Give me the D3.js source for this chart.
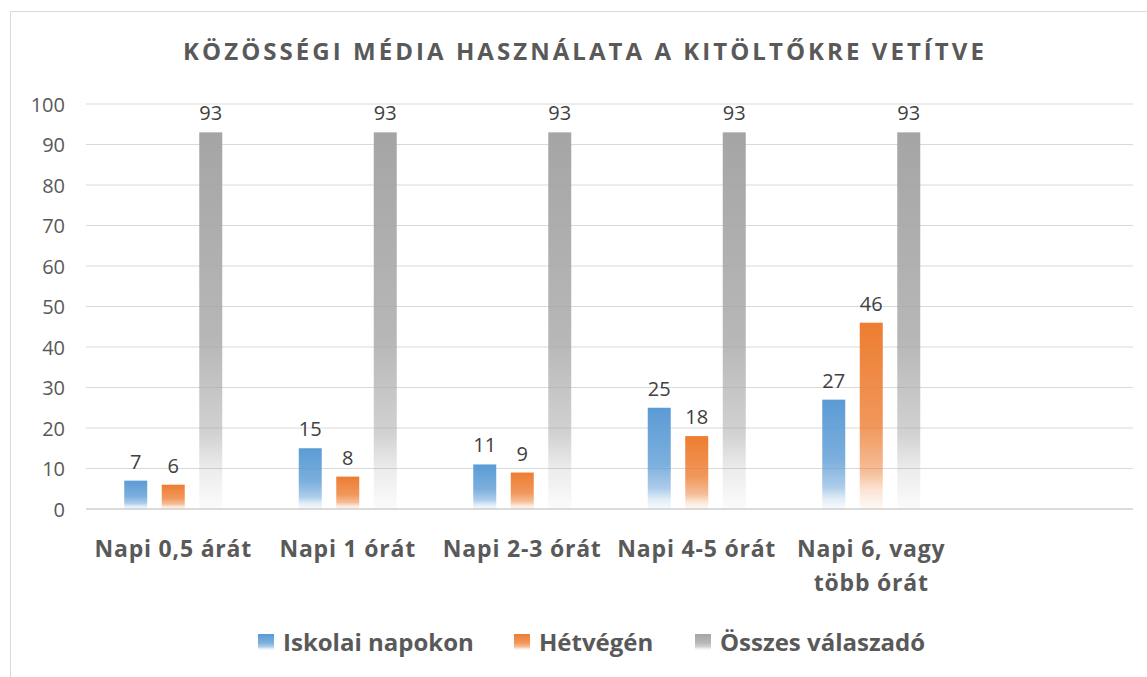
<!DOCTYPE html>
<html><head><meta charset="utf-8">
<script src="https://cdn.jsdelivr.net/npm/d3@7"></script>
<style>body{margin:0;background:#fff;} svg{display:block;}</style>
</head><body>
<svg id="chart" width="1147" height="677"></svg>
<script>
const title = "KÖZÖSSÉGI MÉDIA HASZNÁLATA A KITÖLTŐKRE VETÍTVE";
const categories = [["Napi 0,5 árát"], ["Napi 1 órát"], ["Napi 2-3 órát"], ["Napi 4-5 órát"], ["Napi 6, vagy", "több órát"], [""]];
const seriesNames = ["Iskolai napokon", "Hétvégén", "Összes válaszadó"];
const iskolai = [7, 15, 11, 25, 27, null];
const hetvegen = [6, 8, 9, 18, 46, null];
const osszes = [93, 93, 93, 93, 93, null];
const colors = ["#5B9BD5", "#ED7D31", "#A5A5A5"];
const yTicks = [0, 10, 20, 30, 40, 50, 60, 70, 80, 90, 100];

(function () {
const series = [iskolai, hetvegen, osszes];
const svg = d3.select("#chart");
const font = "'Open Sans', sans-serif";

const defs = svg.append("defs");
colors.forEach((c, i) => {
  const g = defs.append("linearGradient").attr("id", "grad" + i)
    .attr("x1", 0).attr("y1", 0).attr("x2", 0).attr("y2", 1);
  [[0, 1], [0.55, 0.8], [0.8, 0.5], [0.9, 0.2], [1, 0.04]].forEach(([o, a]) => {
    g.append("stop").attr("offset", o).attr("stop-color", c).attr("stop-opacity", a);
  });
});

svg.append("rect").attr("x", 10.5).attr("y", 11.5).attr("width", 1160).attr("height", 680)
  .attr("fill", "#fff").attr("stroke", "#d9d9d9");

const pl = 86, pr = 1133, pt = 104, pb = 509;
const x = d3.scaleBand().domain(d3.range(categories.length)).range([pl, pr]).paddingInner(0).paddingOuter(0);
const y = d3.scaleLinear().domain([0, 100]).range([pb, pt]);

svg.append("g").selectAll("line").data(yTicks).join("line")
  .attr("x1", pl).attr("x2", pr)
  .attr("y1", d => y(d)).attr("y2", d => y(d))
  .attr("stroke", d => d === 0 ? "#cfcfcf" : "#d9d9d9")
  .attr("stroke-width", d => d === 0 ? 1.5 : 1.2);

const yAxis = d3.axisLeft(y).tickValues(yTicks).tickSize(0).tickPadding(0);
const ya = svg.append("g").attr("transform", `translate(65,0)`).call(yAxis);
ya.select(".domain").remove();
ya.selectAll("text").attr("font-family", font).attr("font-size", 20).attr("fill", "#595959").attr("dy", "0.35em");

const barW = 23, step = 37.5;
const groups = svg.append("g");
series.forEach((s, si) => {
  const data = s.map((v, i) => ({ v, i })).filter(d => d.v != null);
  const cx = d => x(d.i) + x.bandwidth() / 2 + (si - 1) * step;
  groups.append("g").selectAll("rect").data(data).join("rect")
    .attr("x", d => cx(d) - barW / 2).attr("width", barW)
    .attr("y", d => y(d.v)).attr("height", d => y(0) - y(d.v))
    .attr("fill", `url(#grad${si})`);
  groups.append("g").selectAll("text").data(data).join("text")
    .attr("x", d => cx(d)).attr("y", d => y(d.v) - 12)
    .attr("text-anchor", "middle").attr("font-family", font).attr("font-size", 20)
    .attr("fill", "#404040").text(d => d.v);
});

const xl = svg.append("g").selectAll("text").data(categories).join("text")
  .attr("text-anchor", "middle").attr("font-family", font).attr("font-size", 23)
  .attr("letter-spacing", 0.8)
  .attr("font-weight", "bold").attr("fill", "#595959")
  .attr("x", (d, i) => x(i) + x.bandwidth() / 2).attr("y", 557);
xl.selectAll("tspan").data(d => d).join("tspan")
  .attr("x", function() { return this.parentNode.getAttribute("x"); })
  .attr("dy", (d, i) => i === 0 ? 0 : 34).text(d => d);

svg.append("text").attr("x", 585).attr("y", 60).attr("text-anchor", "middle")
  .attr("font-family", font).attr("font-size", 24).attr("font-weight", "bold")
  .attr("letter-spacing", 3.05).attr("fill", "#595959").text(title);

const legendX = [258, 514, 695];
const lg = svg.append("g").selectAll("g").data(seriesNames).join("g")
  .attr("transform", (d, i) => `translate(${legendX[i]},634)`);
lg.append("rect").attr("width", 16).attr("height", 16).attr("fill", (d, i) => `url(#grad${i})`);
lg.append("text").attr("x", 25).attr("y", 17).attr("font-family", font).attr("font-size", 24)
  .attr("font-weight", "bold").attr("fill", "#595959").text(d => d);
})();
</script>
</body></html>
